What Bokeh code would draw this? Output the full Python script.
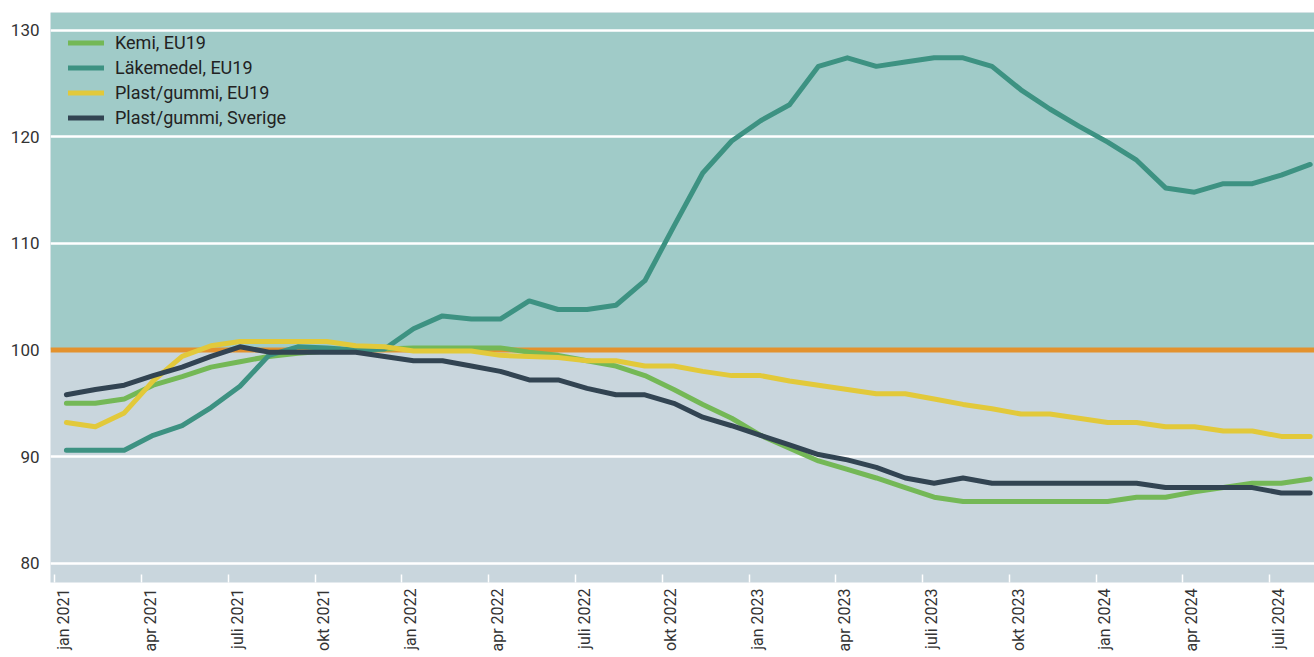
from bokeh.plotting import figure
from bokeh.models import (BoxAnnotation, Span, FixedTicker, Legend, LegendItem,
                          ColumnDataSource, LinearAxis, CustomLabelingPolicy)
from bokeh.embed import file_html
from bokeh.resources import INLINE
import math

# Months: jan 2021 .. aug 2024 (44 monthly observations)
tick_labels = ["jan 2021", "apr 2021", "juli 2021", "okt 2021",
               "jan 2022", "apr 2022", "juli 2022", "okt 2022",
               "jan 2023", "apr 2023", "juli 2023", "okt 2023",
               "jan 2024", "apr 2024", "juli 2024"]

series_names = ["Kemi, EU19", "Läkemedel, EU19", "Plast/gummi, EU19", "Plast/gummi, Sverige"]

kemi = [95.0, 95.0, 95.4, 96.7, 97.5, 98.4, 98.9, 99.4, 99.7, 99.9,
        99.9, 100.1, 100.2, 100.2, 100.2, 100.2, 99.8, 99.5, 99.0, 98.5,
        97.6, 96.3, 94.9, 93.6, 92.0, 90.8, 89.6, 88.8, 88.0, 87.1,
        86.2, 85.8, 85.8, 85.8, 85.8, 85.8, 85.8, 86.2, 86.2, 86.7,
        87.1, 87.5, 87.5, 87.9]

lakemedel = [90.6, 90.6, 90.6, 92.0, 92.9, 94.6, 96.6, 99.5, 100.3, 100.2,
             100.0, 100.1, 102.0, 103.2, 102.9, 102.9, 104.6, 103.8, 103.8, 104.2,
             106.5, 111.6, 116.6, 119.6, 121.5, 123.0, 126.6, 127.4, 126.6, 127.0,
             127.4, 127.4, 126.6, 124.4, 122.6, 121.0, 119.5, 117.8, 115.2, 114.8,
             115.6, 115.6, 116.4, 117.4]

plast_eu = [93.2, 92.8, 94.1, 97.1, 99.4, 100.4, 100.8, 100.8, 100.8, 100.8,
            100.4, 100.3, 99.9, 99.9, 99.9, 99.5, 99.4, 99.3, 99.0, 99.0,
            98.5, 98.5, 98.0, 97.6, 97.6, 97.1, 96.7, 96.3, 95.9, 95.9,
            95.4, 94.9, 94.5, 94.0, 94.0, 93.6, 93.2, 93.2, 92.8, 92.8,
            92.4, 92.4, 91.9, 91.9]

plast_se = [95.8, 96.3, 96.7, 97.6, 98.4, 99.4, 100.3, 99.8, 99.8, 99.8,
            99.8, 99.4, 99.0, 99.0, 98.5, 98.0, 97.2, 97.2, 96.4, 95.8,
            95.8, 95.0, 93.7, 92.9, 92.0, 91.1, 90.2, 89.7, 89.0, 88.0,
            87.5, 88.0, 87.5, 87.5, 87.5, 87.5, 87.5, 87.5, 87.1, 87.1,
            87.1, 87.1, 86.6, 86.6]

colors = ["#74b856", "#3d9282", "#e2c93a", "#324452"]

x = [i + 0.4 for i in range(len(kemi))]
src = ColumnDataSource(dict(x=x, kemi=kemi, lak=lakemedel, pe=plast_eu, ps=plast_se))

p = figure(width=1314, height=657, output_backend="svg", toolbar_location=None,
           x_range=(-0.15, 43.55), y_range=(78.2, 131.65),
           min_border_left=50, min_border_top=12, min_border_right=0, min_border_bottom=75)
p.outline_line_color = None
p.background_fill_color = "#c9d6dd"
p.border_fill_color = "white"

# Upper background band (above index 100)
p.add_layout(BoxAnnotation(bottom=100, fill_color="#a0cbc8", fill_alpha=1.0,
                           line_color=None, level="image"))

# Grid
p.xgrid.visible = False
p.ygrid.ticker = FixedTicker(ticks=[80, 90, 100, 110, 120, 130])
p.ygrid.grid_line_color = "white"
p.ygrid.grid_line_width = 2.5

# Reference line at 100
p.add_layout(Span(location=100, dimension="width", line_color="#e3922e",
                  line_width=5, level="underlay"))

renderers = []
for col, c in zip(["kemi", "lak", "pe", "ps"], colors):
    r = p.line("x", col, source=src, line_color=c, line_width=5,
               line_join="round", line_cap="round")
    renderers.append(r)

legend = Legend(items=[LegendItem(label=n, renderers=[r]) for n, r in zip(series_names, renderers)],
                location="top_left", background_fill_alpha=0, border_line_alpha=0,
                label_text_font="Roboto", label_text_font_size="18px", label_text_color="#222222",
                glyph_width=36, glyph_height=25, label_height=25, spacing=0,
                padding=0, margin=18, label_standoff=11)
p.add_layout(legend)

# Y axis
p.yaxis.ticker = FixedTicker(ticks=[80, 90, 100, 110, 120, 130])
p.yaxis.axis_line_color = None
p.yaxis.major_tick_line_color = None
p.yaxis.minor_tick_line_color = None
p.yaxis.major_label_text_font = "Roboto"
p.yaxis.major_label_text_font_size = "17px"
p.yaxis.major_label_text_color = "#333333"
p.yaxis.major_label_standoff = 5

# X axis: tick marks at quarter starts (labels suppressed)
ticks = list(range(0, 3 * len(tick_labels), 3))
p.xaxis.ticker = FixedTicker(ticks=ticks)
p.xaxis.major_label_policy = CustomLabelingPolicy(code="return []")
p.xaxis.major_label_text_font_size = "0px"
p.xaxis.major_label_standoff = 0
p.xaxis.axis_line_color = None
p.xaxis.minor_tick_line_color = None
p.xaxis.major_tick_line_color = "white"
p.xaxis.major_tick_line_width = 1.5
p.xaxis.major_tick_in = 8
p.xaxis.major_tick_out = 0

# Second x axis carrying the rotated labels, slightly right of the tick marks
label_pos = [t + 0.3 for t in ticks]
lab_axis = LinearAxis(ticker=FixedTicker(ticks=label_pos),
                      major_label_overrides={lp: l for lp, l in zip(label_pos, tick_labels)},
                      major_label_orientation=math.pi / 2,
                      axis_line_color=None, major_tick_line_color=None,
                      minor_tick_line_color=None, major_tick_in=0, major_tick_out=0,
                      major_label_standoff=6, major_label_text_font="Roboto",
                      major_label_text_font_size="16px", major_label_text_color="#333333")
p.add_layout(lab_axis, "below")

open("out.html", "w").write(file_html(p, INLINE))
